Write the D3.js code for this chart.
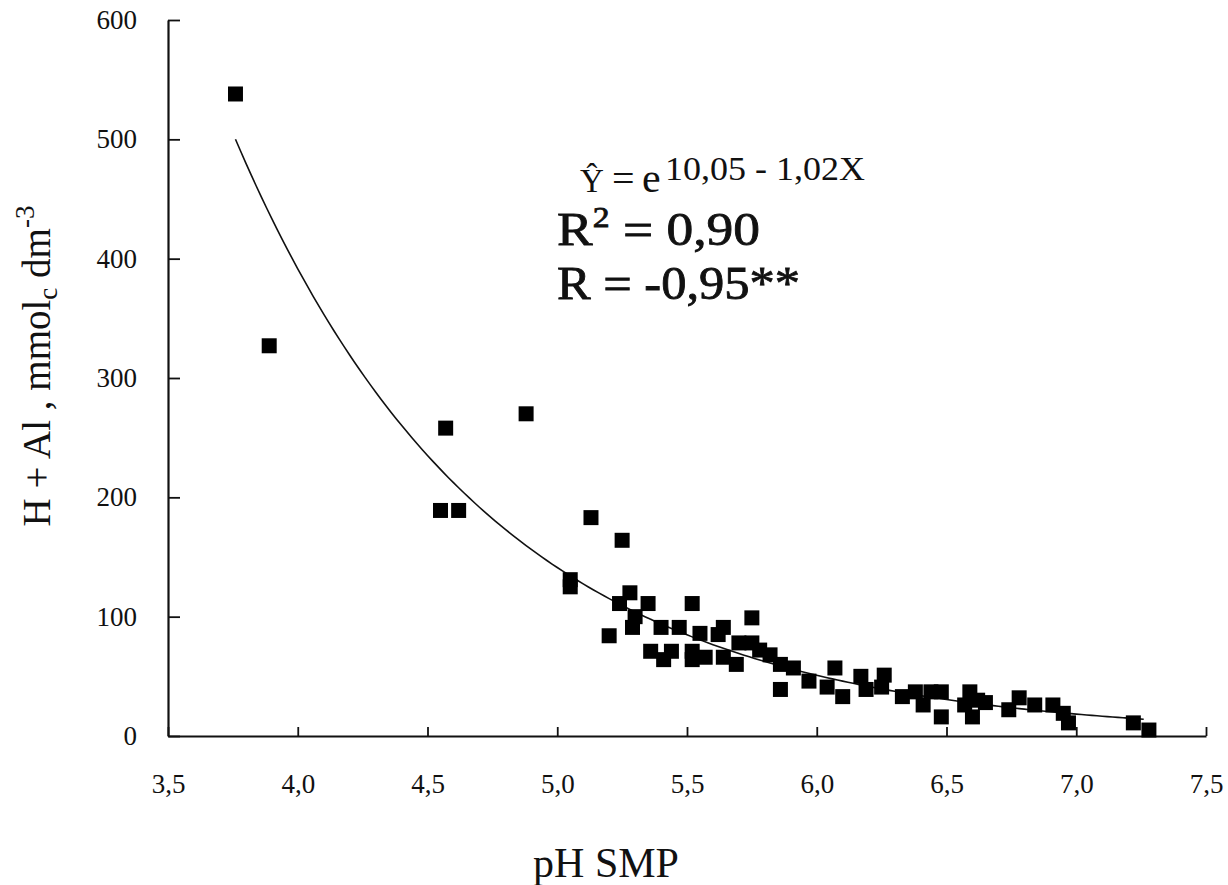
<!DOCTYPE html>
<html><head><meta charset="utf-8">
<script src="https://cdn.jsdelivr.net/npm/d3@7"></script>
<style>body{margin:0;background:#fff}</style>
</head><body><svg id="c" width="1228" height="885"></svg>
<script>
// pH SMP values (x) and H + Al values (y)
const pH = [3.76, 3.89, 4.55, 4.62, 4.57, 4.88, 5.05, 5.05, 5.13, 5.25,
  5.20, 5.24, 5.28, 5.29, 5.30, 5.35, 5.52, 5.75, 5.40, 5.47,
  5.64, 5.36, 5.41, 5.44, 5.52, 5.52, 5.55, 5.57, 5.62, 5.64,
  5.69, 5.70, 5.75, 5.78, 5.82, 5.86, 5.91, 5.86, 5.97, 6.07,
  6.04, 6.10, 6.17, 6.19, 6.26, 6.25, 6.33, 6.38, 6.41, 6.44,
  6.48, 6.48, 6.59, 6.57, 6.65, 6.60, 6.62, 6.74, 6.78, 6.84,
  6.91, 6.95, 6.97, 7.22, 7.28];
const hAl = [538, 327, 189, 189, 258, 270, 131, 125, 183, 164,
  84, 111, 120, 91, 100, 111, 111, 99, 91, 91,
  91, 71, 64, 71, 71, 64, 86, 66, 85, 66,
  60, 78, 78, 72, 68, 60, 57, 39, 46, 57,
  41, 33, 50, 39, 51, 41, 33, 37, 26, 37,
  37, 16, 37, 26, 28, 16, 30, 22, 32, 26,
  26, 19, 11, 11, 5];
const xTicks = [3.5, 4.0, 4.5, 5.0, 5.5, 6.0, 6.5, 7.0, 7.5];
const xTickLabels = ["3,5", "4,0", "4,5", "5,0", "5,5", "6,0", "6,5", "7,0", "7,5"];
const yTicks = [0, 100, 200, 300, 400, 500, 600];
// fitted model shown on the chart: Y = e^(a - b X)
const fitCoef = [10.05, 1.02];
const fitRange = [3.76, 7.26];
const xDomain = [3.5, 7.5];
const yDomain = [0, 600];

const svg = d3.select("#c");
const M = {left: 168, right: 22, top: 20, bottom: 149};
const W = 1228, H = 885;
const x = d3.scaleLinear().domain(xDomain).range([M.left, W - M.right]);
const y = d3.scaleLinear().domain(yDomain).range([H - M.bottom, M.top]);
const font = "'Liberation Serif','Times New Roman',serif";

// axes
const xAxis = d3.axisBottom(x).tickValues(xTicks)
  .tickFormat((d, i) => xTickLabels[i]).tickSizeInner(-9).tickSizeOuter(0).tickPadding(38);
const gx = svg.append("g").attr("transform", `translate(0,${y(0)})`).call(xAxis);
const yAxis = d3.axisLeft(y).tickValues(yTicks).tickFormat(d3.format("d"))
  .tickSizeInner(-12).tickSizeOuter(0).tickPadding(31);
const gy = svg.append("g").attr("transform", `translate(${x(3.5)},0)`).call(yAxis);
[gx, gy].forEach(g => {
  g.select(".domain").attr("stroke", "#111").attr("stroke-width", 2.2);
  g.selectAll(".tick line").attr("stroke", "#111").attr("stroke-width", 1.8);
  g.selectAll(".tick text").attr("font-family", font).attr("font-size", 27).attr("fill", "#111");
});

// fitted curve
const curvePts = d3.range(fitRange[0], fitRange[1] + 0.0001, 0.02)
  .map(v => [v, Math.exp(fitCoef[0] - fitCoef[1] * v)]);
svg.append("path").datum(curvePts)
  .attr("fill", "none").attr("stroke", "#111").attr("stroke-width", 1.6)
  .attr("d", d3.line().x(d => x(d[0])).y(d => y(d[1])).curve(d3.curveMonotoneX));

// points
const sym = d3.symbol(d3.symbolSquare, 225);
svg.append("g").selectAll("path").data(pH.map((v, i) => [v, hAl[i]])).join("path")
  .attr("d", sym).attr("fill", "#000")
  .attr("transform", d => `translate(${x(d[0])},${y(d[1])})`);

// axis titles
svg.append("text").attr("x", 606).attr("y", 877).attr("text-anchor", "middle")
  .attr("font-family", font).attr("font-size", 42).attr("fill", "#111").text("pH SMP");

const yl = svg.append("text").attr("transform", "translate(50,366) rotate(-90)")
  .attr("text-anchor", "middle").attr("font-family", font).attr("font-size", 39).attr("fill", "#111");
yl.append("tspan").text("H  + Al , mmol");
yl.append("tspan").attr("font-size", 27).attr("dy", 7).text("c");
yl.append("tspan").attr("dy", -7).text(" dm");
yl.append("tspan").attr("font-size", 27).attr("dy", -16).text("-3");

// equation block
const eq = svg.append("g").attr("font-family", font).attr("fill", "#111");
eq.append("text").attr("x", 580).attr("y", 192).attr("font-size", 33).text("Ŷ");
eq.append("text").attr("x", 612).attr("y", 192).attr("font-size", 40).text("=");
eq.append("text").attr("x", 642).attr("y", 192).attr("font-size", 42).text("e");
eq.append("text").attr("x", 665).attr("y", 180).attr("font-size", 33)
  .attr("textLength", 200).attr("lengthAdjust", "spacingAndGlyphs").text("10,05 - 1,02X");
const r2 = eq.append("text").attr("x", 557).attr("y", 245).attr("font-size", 46)
  .attr("stroke", "#111").attr("stroke-width", 0.8)
  .attr("textLength", 203).attr("lengthAdjust", "spacingAndGlyphs");
r2.append("tspan").text("R");
r2.append("tspan").attr("font-size", 29).attr("dy", -18).text("2");
r2.append("tspan").attr("dy", 18).text(" = 0,90");
eq.append("text").attr("x", 557).attr("y", 299).attr("font-size", 46)
  .attr("stroke", "#111").attr("stroke-width", 0.8)
  .attr("textLength", 243).attr("lengthAdjust", "spacingAndGlyphs").text("R = -0,95**");
</script></body></html>
